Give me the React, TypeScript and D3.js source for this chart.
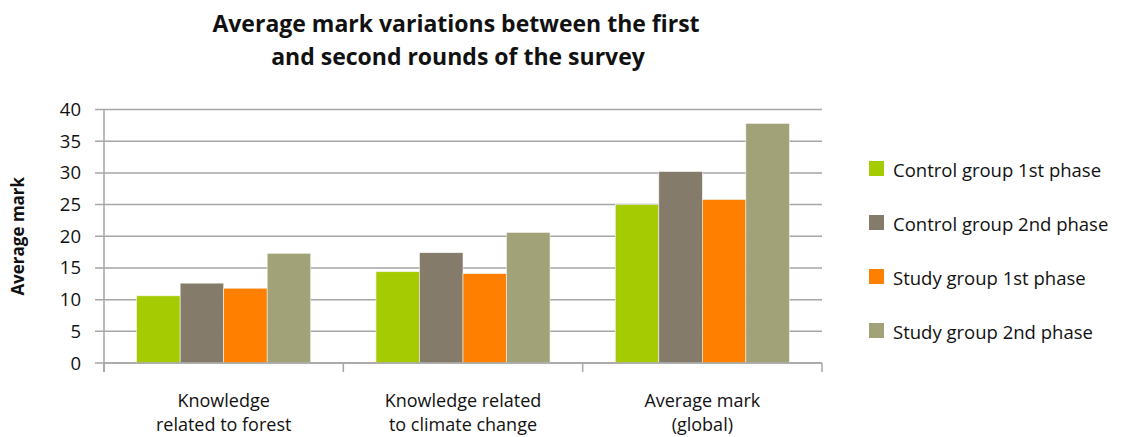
import React, { useRef, useEffect } from 'react';
import * as d3 from 'd3';

const categories = ["Knowledge\nrelated to forest", "Knowledge related\nto climate change", "Average mark\n(global)"];
const seriesNames = ["Control group 1st phase", "Control group 2nd phase", "Study group 1st phase", "Study group 2nd phase"];
const colors = ["#a5cb02", "#857b6b", "#ff7f00", "#a1a277"];
const control1 = [10.6, 14.4, 25.0];
const control2 = [12.6, 17.4, 30.2];
const study1 = [11.8, 14.1, 25.8];
const study2 = [17.3, 20.6, 37.8];
const yTicks = [0, 5, 10, 15, 20, 25, 30, 35, 40];

const W = 1121;
const H = 437;
const FONT = "'Open Sans', 'DejaVu Sans', sans-serif";

export default function App() {
    const svgRef = useRef<SVGSVGElement>(null);

    useEffect(() => {
        if (!svgRef.current) return;
        const svg = d3.select(svgRef.current);
        svg.selectAll("*").remove();

        const left = 104, right = 822, top = 109.5, bottom = 363;
        const series = [control1, control2, study1, study2];

        const x = d3.scaleBand<number>()
            .domain(categories.map((_, i) => i))
            .range([left, right])
            .paddingInner(0)
            .paddingOuter(0);

        // bars fill the middle of each category, ~32px gap each side
        const inner = d3.scaleBand<number>()
            .domain(seriesNames.map((_, i) => i))
            .range([0, x.bandwidth()])
            .paddingOuter(0.75)
            .paddingInner(0);

        const y = d3.scaleLinear().domain([0, 40]).range([bottom, top]);

        // Title
        const title = svg.append("text")
            .attr("text-anchor", "middle")
            .style("font-family", FONT)
            .style("font-weight", "bold")
            .style("font-size", "23px")
            .style("fill", "#111");
        title.append("tspan").attr("x", 456).attr("y", 32).text("Average mark variations between the first");
        title.append("tspan").attr("x", 458).attr("y", 65).text("and second rounds of the survey");

        // Grid
        svg.append("g")
            .selectAll("line")
            .data(yTicks)
            .enter()
            .append("line")
            .attr("x1", 95)
            .attr("x2", right)
            .attr("y1", d => y(d))
            .attr("y2", d => y(d))
            .attr("stroke", "#a6a6a6")
            .attr("stroke-width", 1.5);

        // Y axis line
        svg.append("line")
            .attr("x1", left).attr("x2", left)
            .attr("y1", top).attr("y2", bottom + 9)
            .attr("stroke", "#a6a6a6").attr("stroke-width", 1.5);

        // Y tick labels
        svg.append("g")
            .selectAll("text")
            .data(yTicks)
            .enter()
            .append("text")
            .attr("x", 81)
            .attr("y", d => y(d) + 6.5)
            .attr("text-anchor", "end")
            .style("font-family", FONT)
            .style("font-size", "18.5px")
            .style("fill", "#111")
            .text(d => d);

        // Y axis title
        svg.append("text")
            .attr("transform", `translate(24,${(top + bottom) / 2}) rotate(-90)`)
            .attr("text-anchor", "middle")
            .style("font-family", FONT)
            .style("font-weight", "bold")
            .style("font-size", "17px")
            .style("fill", "#111")
            .text("Average mark");

        // Bars
        series.forEach((vals, si) => {
            svg.append("g")
                .selectAll("rect")
                .data(vals)
                .enter()
                .append("rect")
                .attr("x", (_, ci) => x(ci)! + inner(si)!)
                .attr("y", d => y(d))
                .attr("width", inner.bandwidth())
                .attr("height", d => bottom - y(d))
                .attr("fill", colors[si])
                .attr("stroke", "#f4f4ee")
                .attr("stroke-width", 0.6);
        });

        // X axis ticks
        const bounds = [0, 1, 2].map(i => x(i)!).concat([right]);
        svg.append("g")
            .selectAll("line")
            .data(bounds)
            .enter()
            .append("line")
            .attr("x1", d => d).attr("x2", d => d)
            .attr("y1", bottom).attr("y2", bottom + 9)
            .attr("stroke", "#a6a6a6").attr("stroke-width", 1.5);

        svg.append("line")
            .attr("x1", left).attr("x2", right)
            .attr("y1", bottom).attr("y2", bottom)
            .attr("stroke", "#a6a6a6").attr("stroke-width", 1.5);

        // Category labels
        categories.forEach((c, i) => {
            const t = svg.append("text")
                .attr("text-anchor", "middle")
                .style("font-family", FONT)
                .style("font-size", "18px")
                .style("fill", "#111");
            c.split("\n").forEach((line, li) => {
                t.append("tspan")
                    .attr("x", x(i)! + x.bandwidth() / 2)
                    .attr("y", 407 + li * 24)
                    .text(line);
            });
        });

        // Legend
        const legend = svg.append("g");
        seriesNames.forEach((name, i) => {
            const cy = 171 + i * 54;
            legend.append("rect")
                .attr("x", 869).attr("y", cy - 10)
                .attr("width", 15).attr("height", 15)
                .attr("fill", colors[i]);
            legend.append("text")
                .attr("x", 893).attr("y", cy + 6)
                .style("font-family", FONT)
                .style("font-size", "18.5px")
                .style("fill", "#111")
                .text(name);
        });
    }, []);

    return (
        <div style={{ position: "absolute", left: 0, top: 0, background: "#fff" }}>
            <svg ref={svgRef} width={W} height={H} style={{ display: "block" }} />
        </div>
    );
}
